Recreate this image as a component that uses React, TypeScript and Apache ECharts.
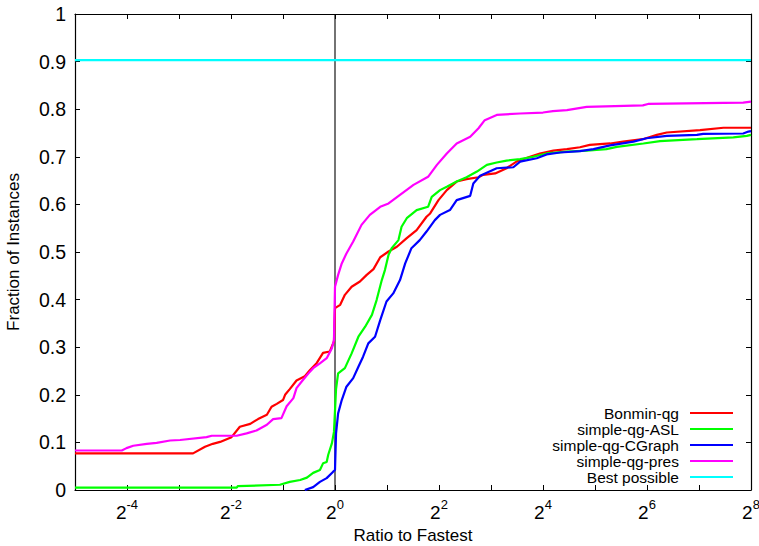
import React, { useEffect, useRef } from "react";
import * as echarts from "echarts";

const seriesNames = ["Bonmin-qg", "simple-qg-ASL", "simple-qg-CGraph", "simple-qg-pres", "Best possible"];
const seriesColors = ["#ff0000", "#00ff00", "#0000ff", "#ff00ff", "#00ffff"];

// x values are log2(ratio to fastest), y values are fraction of instances
const bonminQg: [number, number][] = [
  [-5, 0.077], [-2.73, 0.077], [-2.5, 0.091], [-2.35, 0.097], [-2.21, 0.101], [-1.99, 0.111],
  [-1.83, 0.133], [-1.63, 0.139], [-1.48, 0.149], [-1.31, 0.158], [-1.22, 0.175], [-1.12, 0.181],
  [-1.0, 0.189], [-0.96, 0.2], [-0.87, 0.212], [-0.74, 0.23], [-0.58, 0.239], [-0.48, 0.252],
  [-0.35, 0.267], [-0.23, 0.288], [-0.1, 0.291], [-0.02, 0.312], [0.0, 0.382], [0.1, 0.389],
  [0.19, 0.41], [0.32, 0.427], [0.48, 0.438], [0.61, 0.452], [0.74, 0.464], [0.87, 0.489],
  [1.03, 0.501], [1.19, 0.511], [1.38, 0.529], [1.57, 0.546], [1.76, 0.574], [1.83, 0.581],
  [1.99, 0.609], [2.15, 0.63], [2.34, 0.648], [2.53, 0.653], [2.76, 0.657], [2.85, 0.662],
  [3.08, 0.665], [3.3, 0.676], [3.49, 0.69], [3.75, 0.7], [3.94, 0.707], [4.2, 0.713],
  [4.46, 0.716], [4.71, 0.72], [4.9, 0.725], [5.29, 0.728], [5.54, 0.732], [5.92, 0.737],
  [6.19, 0.746], [6.38, 0.751], [7.02, 0.756], [7.47, 0.761], [8.0, 0.761],
];

const simpleQgAsl: [number, number][] = [
  [-5, 0.005], [-1.89, 0.005], [-1.87, 0.008], [-1.06, 0.011], [-0.87, 0.017], [-0.67, 0.021],
  [-0.54, 0.026], [-0.42, 0.036], [-0.29, 0.042], [-0.23, 0.056], [-0.16, 0.059], [-0.13, 0.074],
  [-0.06, 0.098], [-0.02, 0.122], [0.01, 0.189], [0.02, 0.212], [0.06, 0.245], [0.19, 0.256],
  [0.32, 0.287], [0.45, 0.322], [0.58, 0.343], [0.71, 0.368], [0.8, 0.399], [0.9, 0.441],
  [0.96, 0.462], [1.03, 0.494], [1.09, 0.508], [1.22, 0.525], [1.28, 0.553], [1.38, 0.571],
  [1.57, 0.588], [1.79, 0.595], [1.86, 0.616], [2.02, 0.63], [2.15, 0.637], [2.34, 0.648],
  [2.53, 0.657], [2.73, 0.669], [2.92, 0.683], [3.11, 0.688], [3.3, 0.692], [3.56, 0.695],
  [3.81, 0.7], [4.07, 0.707], [4.46, 0.711], [4.84, 0.713], [5.22, 0.716], [5.42, 0.721],
  [5.93, 0.728], [6.25, 0.733], [6.96, 0.737], [7.66, 0.741], [7.92, 0.744], [8.0, 0.746],
];

const simpleQgCGraph: [number, number][] = [
  [-0.58, 0.0], [-0.42, 0.006], [-0.29, 0.017], [-0.16, 0.025], [-0.04, 0.038], [0.0, 0.042],
  [0.02, 0.119], [0.06, 0.161], [0.13, 0.189], [0.22, 0.217], [0.35, 0.235], [0.45, 0.259],
  [0.54, 0.28], [0.64, 0.308], [0.77, 0.322], [0.87, 0.357], [0.99, 0.396], [1.12, 0.413],
  [1.25, 0.441], [1.35, 0.476], [1.47, 0.508], [1.63, 0.525], [1.76, 0.543], [1.92, 0.567],
  [2.02, 0.578], [2.21, 0.588], [2.34, 0.609], [2.6, 0.618], [2.66, 0.644], [2.79, 0.66],
  [3.11, 0.676], [3.43, 0.678], [3.56, 0.69], [3.88, 0.697], [4.07, 0.705], [4.33, 0.709],
  [4.71, 0.712], [4.97, 0.716], [5.29, 0.724], [5.74, 0.732], [5.99, 0.739], [6.38, 0.744],
  [6.96, 0.746], [7.08, 0.748], [7.85, 0.749], [7.95, 0.753], [8.0, 0.754],
];

const simpleQgPres: [number, number][] = [
  [-5, 0.083], [-4.1, 0.083], [-4.01, 0.088], [-3.88, 0.093], [-3.62, 0.097], [-3.43, 0.099],
  [-3.17, 0.104], [-2.98, 0.105], [-2.47, 0.111], [-2.37, 0.114], [-1.89, 0.114], [-1.7, 0.119],
  [-1.51, 0.125], [-1.31, 0.137], [-1.19, 0.149], [-1.03, 0.151], [-0.93, 0.176], [-0.8, 0.193],
  [-0.74, 0.214], [-0.64, 0.228], [-0.51, 0.245], [-0.42, 0.256], [-0.29, 0.266], [-0.16, 0.277],
  [-0.06, 0.298], [-0.02, 0.315], [0.0, 0.427], [0.06, 0.452], [0.13, 0.476], [0.22, 0.497],
  [0.35, 0.522], [0.51, 0.557], [0.67, 0.578], [0.87, 0.595], [1.03, 0.602], [1.25, 0.62],
  [1.51, 0.641], [1.79, 0.658], [1.96, 0.683], [2.15, 0.707], [2.34, 0.728], [2.6, 0.742],
  [2.76, 0.76], [2.88, 0.777], [3.11, 0.788], [3.56, 0.791], [4.0, 0.793], [4.19, 0.796],
  [4.46, 0.798], [4.84, 0.805], [5.92, 0.808], [6.02, 0.811], [7.85, 0.814], [8.0, 0.816],
];

const bestPossible: [number, number][] = [[-5, 0.903], [8, 0.903]];
const unitRatioLine: [number, number][] = [[0, 0], [0, 1]];

const xMin = -5;
const xMax = 8;
const xStep = 1;
const yMin = 0;
const yMax = 1;
const yStep = 0.1;

export default function App() {
  const ref = useRef<HTMLDivElement>(null);

  useEffect(() => {
    if (!ref.current) return;
    const chart = echarts.init(ref.current, null, { renderer: "svg" });
    const font = "'Liberation Sans', Arial, Helvetica, sans-serif";
    const axisLineStyle = { color: "#000", width: 1.2 };
    const tick = { show: true, inside: true, length: 5, lineStyle: { color: "#000", width: 1 } };

    const xLabelFmt = (v: number) => {
      const r = Math.round(v);
      return r % 2 === 0 ? `{b|2}{s|${r}}` : "";
    };

    const dataSets = [bonminQg, simpleQgAsl, simpleQgCGraph, simpleQgPres, bestPossible];

    const option: any = {
      animation: false,
      backgroundColor: "#fff",
      textStyle: { fontFamily: font },
      grid: { left: 75, right: 8, top: 14, bottom: 56, containLabel: false, outerBoundsMode: "none" },
      legend: {
        data: seriesNames.map((n) => ({ name: n, icon: "rect" })),
        orient: "vertical",
        align: "right",
        right: 26,
        top: 405,
        padding: 0,
        itemWidth: 43,
        itemHeight: 2,
        itemGap: 0,
        selectedMode: false,
        textStyle: { fontFamily: font, fontSize: 15.5, color: "#000", padding: [0, 6, 0, 0] },
      },
      xAxis: [
        {
          type: "value",
          min: xMin,
          max: xMax,
          interval: xStep,
          position: "bottom",
          name: "Ratio to Fastest",
          nameLocation: "middle",
          nameGap: 35,
          nameTextStyle: { fontFamily: font, fontSize: 17, color: "#000" },
          axisLine: { show: true, onZero: false, lineStyle: axisLineStyle },
          axisTick: tick,
          splitLine: { show: false },
          axisLabel: {
            formatter: xLabelFmt,
            margin: 8,
            color: "#000",
            rich: {
              b: { fontFamily: font, fontSize: 19, lineHeight: 24, verticalAlign: "bottom", color: "#000" },
              s: { fontFamily: font, fontSize: 13, lineHeight: 13, verticalAlign: "top", color: "#000" },
            },
          },
        },
        {
          type: "value",
          min: xMin,
          max: xMax,
          interval: xStep,
          position: "top",
          axisLine: { show: true, onZero: false, lineStyle: axisLineStyle },
          axisTick: tick,
          axisLabel: { show: false },
          splitLine: { show: false },
        },
      ],
      yAxis: [
        {
          type: "value",
          min: yMin,
          max: yMax,
          interval: yStep,
          position: "left",
          name: "Fraction of Instances",
          nameLocation: "middle",
          nameGap: 53,
          nameTextStyle: { fontFamily: font, fontSize: 17, color: "#000" },
          axisLine: { show: true, onZero: false, lineStyle: axisLineStyle },
          axisTick: tick,
          splitLine: { show: false },
          axisLabel: {
            margin: 9,
            color: "#000",
            fontFamily: font,
            fontSize: 19.5,
            formatter: (v: number) => String(Math.round(v * 10) / 10),
          },
        },
        {
          type: "value",
          min: yMin,
          max: yMax,
          interval: yStep,
          position: "right",
          axisLine: { show: true, onZero: false, lineStyle: axisLineStyle },
          axisTick: tick,
          axisLabel: { show: false },
          splitLine: { show: false },
        },
      ],
      series: [
        {
          name: "unit-ratio",
          type: "line",
          data: unitRatioLine,
          symbol: "none",
          lineStyle: { color: "#000", width: 1.1 },
          itemStyle: { color: "#000" },
          silent: true,
          z: 1,
        },
        ...dataSets.map((d, i) => ({
          name: seriesNames[i],
          type: "line",
          data: d,
          symbol: "none",
          showSymbol: false,
          lineStyle: { color: seriesColors[i], width: 2.2 },
          itemStyle: { color: seriesColors[i] },
          z: 2 + i,
        })),
      ],
    };

    chart.setOption(option);
    return () => chart.dispose();
  }, []);

  return (
    <div
      ref={ref}
      style={{ position: "fixed", left: 0, top: 0, width: 759, height: 546, background: "#fff" }}
    />
  );
}
